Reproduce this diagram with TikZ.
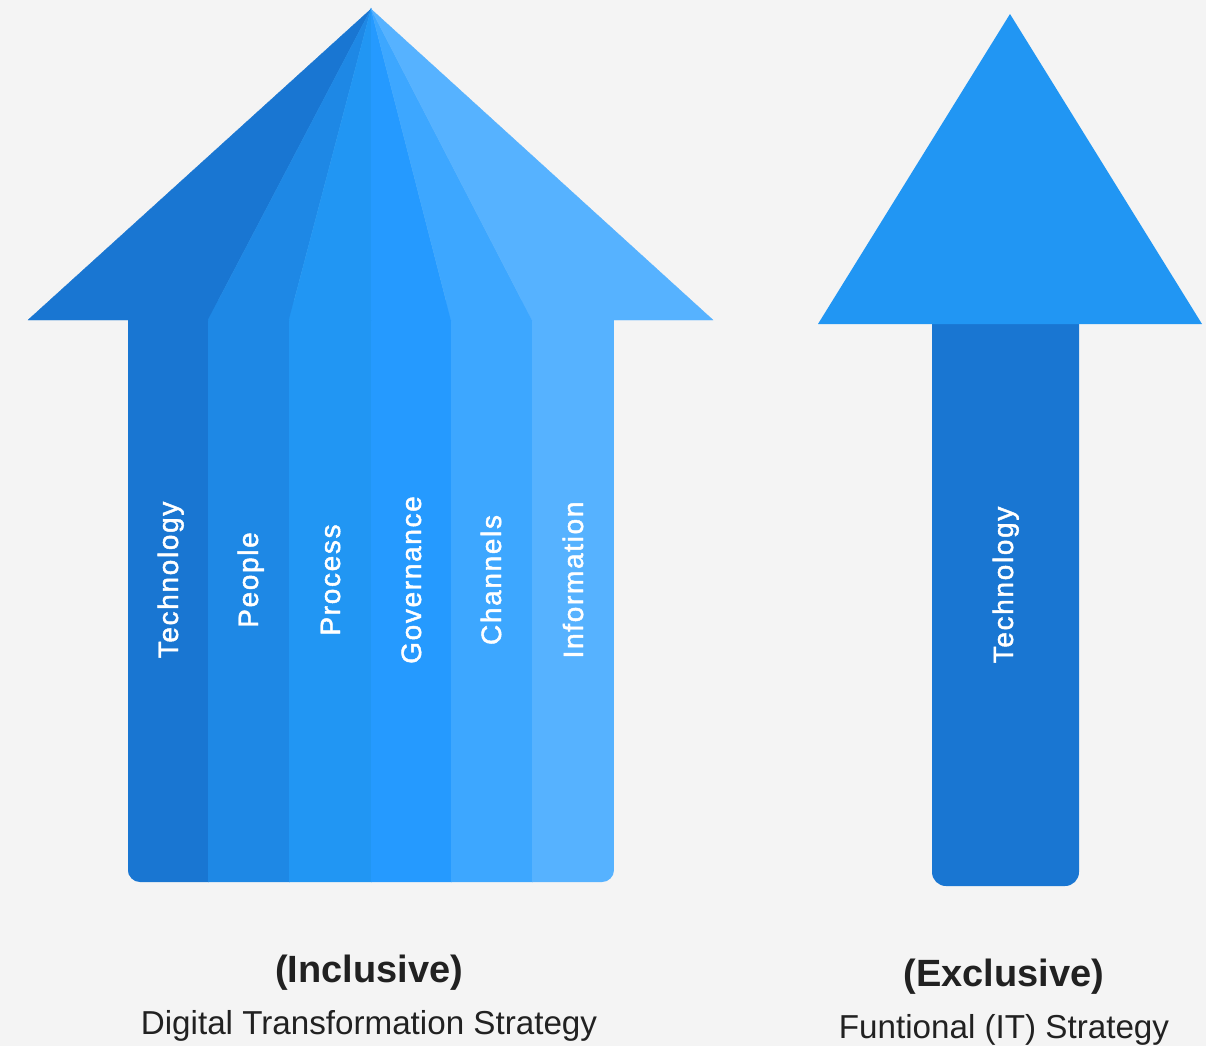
\documentclass[tikz,border=0pt]{standalone}
\usepackage{fontspec}
\setmainfont{Liberation Sans}
\newfontfamily\barfont[LetterSpace=6,FakeBold=1.6]{Liberation Sans}
\usetikzlibrary{positioning}

\definecolor{bgcol}{HTML}{F4F4F4}
\definecolor{textcol}{HTML}{212121}
\definecolor{blueA}{HTML}{1976D2}
\definecolor{blueB}{HTML}{1E88E5}
\definecolor{blueC}{HTML}{2196F3}
\definecolor{blueD}{HTML}{259AFF}
\definecolor{blueE}{HTML}{3DA7FF}
\definecolor{blueF}{HTML}{56B2FF}

\begin{document}
\begin{tikzpicture}[
      x=0.025cm,
      y=-0.025cm,
      barlabel/.style={
        rotate=90,
        anchor=base,
        text=white,
        font=\barfont\fontsize{19.9}{24}\selectfont
      },
      title/.style={anchor=base, text=textcol, font=\bfseries\fontsize{27}{32}\selectfont},
      subtitle/.style={anchor=base, text=textcol, font=\fontsize{23.6}{28}\selectfont}
    ]

      \fill[bgcol] (0,0) rectangle (1206,1046);
      \useasboundingbox (0,0) rectangle (1206,1046);

      % inclusive arrow: shaft stripes
      \begin{scope}
        \clip[rounded corners=0.3cm] (128,300) rectangle (614,882);
        \foreach \xl/\xr/\col in {128/208/blueA, 208/289/blueB, 289/371/blueC,
                                  371/451/blueD, 451/532/blueE, 532/614/blueF}
          \filldraw[\col, line width=0.2pt] (\xl,300) rectangle (\xr,882);
      \end{scope}

      % inclusive arrow: head
      \coordinate (tip) at (371,9);
      \foreach \xl/\xr/\col in {28/208/blueA, 208/289/blueB, 289/371/blueC,
                                371/451/blueD, 451/532/blueE, 532/713/blueF}
        \filldraw[\col, line width=0.2pt] (tip) -- (\xl,320) -- (\xr,320) -- cycle;

      \foreach \x/\txt [count=\i] in {168/Technology, 248/People, 330/Process,
                                      411/Governance, 491/Channels, 573/Information}
        \node[barlabel] (bar-\i) at (\x+10,580) {\txt};

      % exclusive arrow
      \fill[blueA, rounded corners=0.35cm] (932,300) rectangle (1079,886);
      \coordinate (ittip) at (1010,14);
      \fill[blueC] (ittip) -- (818,324) -- (1202,324) -- cycle;
      \node[barlabel] (itbar) at (1013,585) {Technology};

      \node[title] (incl) at (369,982) {(Inclusive)};
      \node[subtitle] (dts) at (369,1034) {Digital Transformation Strategy};
      \node[title] (excl) at (1004,986) {(Exclusive)};
      \node[subtitle] (its) at (1004,1038) {Funtional (IT) Strategy};
    \end{tikzpicture}
\end{document}
